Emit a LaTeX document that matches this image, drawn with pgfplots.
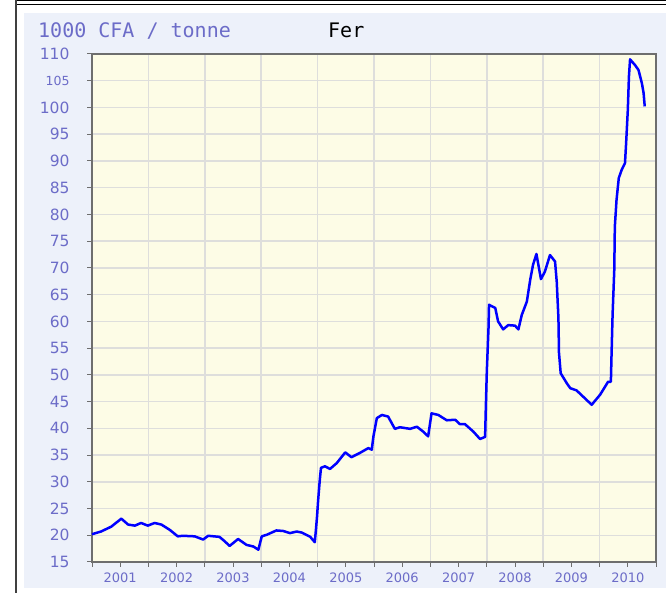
\documentclass[border=0pt]{standalone}
\usepackage{pgfplots}
\pgfplotsset{compat=1.18}
\usepackage{fontspec}
\setmainfont{DejaVu Sans}
\newfontfamily\monofont{DejaVu Sans Mono}
\definecolor{panel}{RGB}{237,241,250}
\definecolor{plotbg}{RGB}{253,252,230}
\definecolor{gridc}{RGB}{222,222,220}
\definecolor{lab}{RGB}{108,108,200}
\definecolor{axc}{RGB}{110,110,110}
\begin{document}
\begin{tikzpicture}[x=1pt,y=1pt]
\path[use as bounding box] (0,0) rectangle (666,593);
\fill[panel] (24,5) rectangle (666,580);
\draw[black, line width=1pt] (16,592.5) -- (666,592.5);
\draw[black, line width=1pt] (16,588) -- (666,588);
\draw[black!75, line width=1.2pt] (16,0) -- (16,593);
\node[anchor=base west, font=\monofont\fontsize{20}{20}\selectfont, text=lab, inner sep=0pt] at (38,555) {1000 CFA / tonne};
\node[anchor=base west, font=\monofont\fontsize{20}{20}\selectfont, text=black, inner sep=0pt] at (328,555) {Fer};
\begin{axis}[
  at={(92pt,31pt)}, anchor=south west,
  scale only axis, width=564pt, height=508pt,
  xmin=2001, xmax=2011, ymin=15, ymax=110,
  axis background/.style={fill=plotbg},
  axis line style={draw=axc, line width=1.3pt},
  xtick={2001.5,2002.5,2003.5,2004.5,2005.5,2006.5,2007.5,2008.5,2009.5,2010.5},
  xticklabels={2001,2002,2003,2004,2005,2006,2007,2008,2009,2010},
  minor xtick={2001,2002,2003,2004,2005,2006,2007,2008,2009,2010,2011},
  ytick={15,20,25,30,35,40,45,50,55,60,65,70,75,80,85,90,95,100,105,110},
  yticklabels={15,20,25,30,35,40,45,50,55,60,65,70,75,80,85,90,95,100,{\fontsize{12.5}{12.5}\selectfont 105},110},
  xminorgrids, ymajorgrids,
  grid style={draw=gridc, line width=1.5pt},
  minor grid style={draw=gridc, line width=1.5pt},
  tick align=outside, tick pos=left,
  major tick length=5pt, minor tick length=5pt,
  tick style={draw=axc, line width=1pt},
  xticklabel style={font=\fontsize{13}{13}\selectfont, text=lab, yshift=-2pt},
  yticklabel style={font=\fontsize{15.5}{15.5}\selectfont, text=lab, xshift=-14pt},
  clip=false,
]
\addplot[color=blue, line width=2.5pt, line join=round] coordinates {
(2001.00,20.2) (2001.16,20.7) (2001.34,21.6) (2001.52,23.1) (2001.64,22.0)
(2001.76,21.8) (2001.87,22.3) (2001.99,21.8) (2002.11,22.3) (2002.23,22.0)
(2002.38,21.0) (2002.52,19.8) (2002.61,19.9) (2002.82,19.8) (2002.97,19.2)
(2003.06,19.9) (2003.26,19.7) (2003.35,18.9) (2003.44,18.0) (2003.59,19.3)
(2003.74,18.2) (2003.86,17.9) (2003.95,17.3) (2004.01,19.8) (2004.10,20.1)
(2004.27,20.9) (2004.39,20.8) (2004.51,20.4) (2004.63,20.7) (2004.72,20.5)
(2004.87,19.7) (2004.95,18.7) (2004.97,21.0) (2004.99,23.5) (2005.01,26.6)
(2005.04,30.5) (2005.06,32.6) (2005.13,32.9) (2005.22,32.4) (2005.34,33.5)
(2005.49,35.5) (2005.60,34.6) (2005.75,35.4) (2005.90,36.3) (2005.96,36.0)
(2005.99,38.5) (2006.05,41.9) (2006.14,42.5) (2006.25,42.2) (2006.37,39.9)
(2006.46,40.2) (2006.64,39.9) (2006.76,40.3) (2006.87,39.4) (2006.96,38.5)
(2007.02,42.8) (2007.14,42.5) (2007.29,41.5) (2007.44,41.6) (2007.52,40.8)
(2007.61,40.8) (2007.76,39.4) (2007.88,38.0) (2007.97,38.4) (2007.98,42.8)
(2008.00,50.6) (2008.03,58.7) (2008.04,63.1) (2008.15,62.5) (2008.20,60.0)
(2008.29,58.5) (2008.38,59.3) (2008.50,59.2) (2008.56,58.5) (2008.62,61.2)
(2008.71,63.7) (2008.77,67.8) (2008.82,70.6) (2008.88,72.6) (2008.96,67.9)
(2009.03,69.3) (2009.12,72.4) (2009.21,71.2) (2009.24,67.4) (2009.27,60.6)
(2009.28,54.1) (2009.31,50.3) (2009.42,48.4) (2009.48,47.5) (2009.59,47.1)
(2009.80,45.0) (2009.86,44.4) (2010.01,46.3) (2010.15,48.7) (2010.20,48.7)
(2010.21,53.1) (2010.23,61.2) (2010.26,69.6) (2010.27,77.7) (2010.30,82.7)
(2010.34,86.8) (2010.39,88.3) (2010.45,89.6) (2010.47,93.3) (2010.50,99.5)
(2010.52,105.8) (2010.54,109.0) (2010.63,107.9) (2010.69,107.0) (2010.75,104.5)
(2010.78,102.7) (2010.80,100.2)
};
\end{axis}
\end{tikzpicture}
\end{document}
